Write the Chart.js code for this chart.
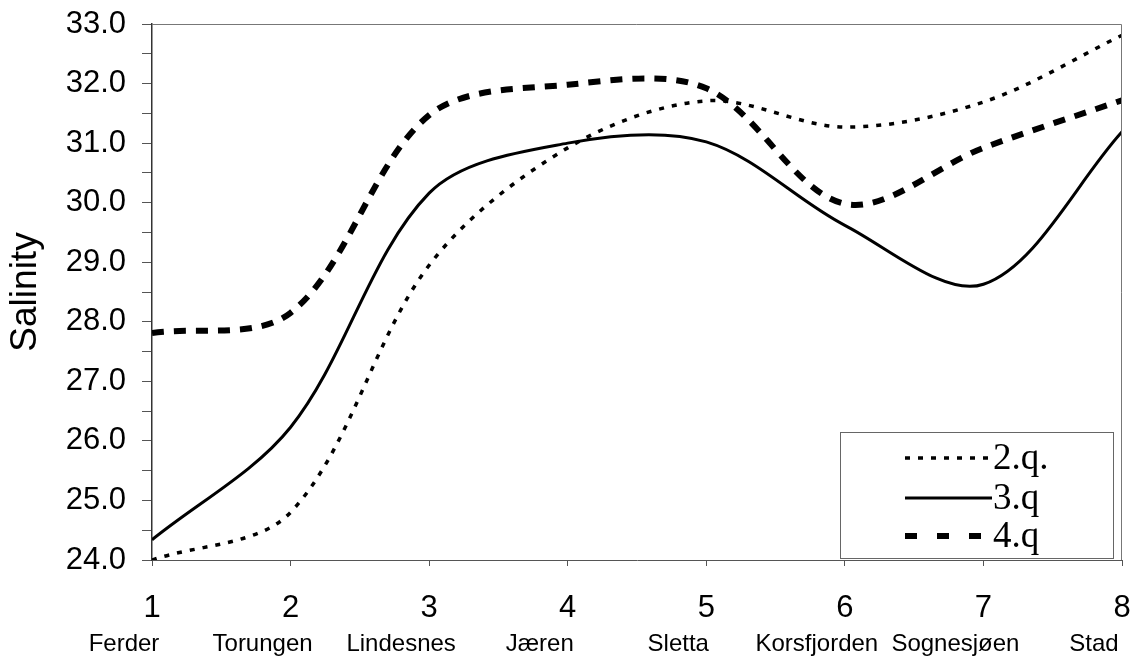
<!DOCTYPE html>
<html><head><meta charset="utf-8">
<script src="https://cdn.jsdelivr.net/npm/chart.js@4/dist/chart.umd.min.js"></script>
<style>html,body{margin:0;padding:0;background:#fff;}#wrap{width:1131px;height:658px;position:relative;}</style>
</head><body><div id="wrap"><canvas id="c" width="1131" height="658"></canvas></div>
<script>
// ---- data ----
const positions = [1, 2, 3, 4, 5, 6, 7, 8];
const stations = ['Ferder', 'Torungen', 'Lindesnes', 'Jæren', 'Sletta', 'Korsfjorden', 'Sognesjøen', 'Stad'];
const seriesLabels = ['2.q.', '3.q', '4.q'];
const q2 = [24.0, 24.8, 28.95, 30.92, 31.71, 31.27, 31.69, 32.81];
const q3 = [24.34, 26.23, 30.16, 31.0, 31.02, 29.62, 28.63, 31.19];
const q4 = [27.81, 28.15, 31.47, 31.98, 31.92, 29.98, 30.92, 31.72];
const yMin = 24, yMax = 33;

const SANS = '"Liberation Sans", Arial, sans-serif';
const SERIF = '"Liberation Serif", "Times New Roman", serif';

const toPts = arr => positions.map((p, i) => ({ x: p, y: arr[i] }));

const framePlugin = {
  id: 'frame',
  afterDatasetsDraw(chart) {
    const { ctx, chartArea: a } = chart;
    ctx.save();
    ctx.strokeStyle = '#777';
    ctx.lineWidth = 1;
    ctx.beginPath();
    ctx.moveTo(a.left, a.top + 0.5);
    ctx.lineTo(a.right - 0.5, a.top + 0.5);
    ctx.lineTo(a.right - 0.5, a.bottom);
    ctx.stroke();
    ctx.restore();
  }
};

const boxLegend = {
  id: 'boxLegend',
  afterDraw(chart) {
    const { ctx, chartArea: a } = chart;
    const w = 273, h = 126;
    const L = a.right - 9 - w, T = a.bottom - 128;
    ctx.save();
    ctx.fillStyle = '#fff';
    ctx.fillRect(L, T, w, h);
    ctx.strokeStyle = '#666';
    ctx.lineWidth = 1;
    ctx.strokeRect(L + 0.5, T + 0.5, w, h);
    const rows = [26, 66, 104];
    chart.data.datasets.forEach((ds, i) => {
      const y = T + rows[i];
      ctx.beginPath();
      ctx.setLineDash(ds.legendDash || []);
      ctx.lineWidth = ds.borderWidth;
      ctx.strokeStyle = ds.borderColor;
      ctx.moveTo(L + 65, y);
      ctx.lineTo(L + 152, y);
      ctx.stroke();
      ctx.setLineDash([]);
      ctx.fillStyle = '#000';
      ctx.font = '37px ' + SERIF;
      ctx.textBaseline = 'alphabetic';
      ctx.textAlign = 'left';
      ctx.fillText(ds.label, L + 153, y + 11);
    });
    ctx.restore();
  }
};

new Chart(document.getElementById('c'), {
  type: 'line',
  data: {
    datasets: [
      { label: seriesLabels[0], data: toPts(q2), borderColor: '#000', borderWidth: 3.5, borderDash: [5, 8], legendDash: [5, 8], pointRadius: 0, tension: 0.33, fill: false },
      { label: seriesLabels[1], data: toPts(q3), borderColor: '#000', borderWidth: 3, pointRadius: 0, tension: 0.33, fill: false },
      { label: seriesLabels[2], data: toPts(q4), borderColor: '#000', borderWidth: 6, borderDash: [12, 10], legendDash: [12, 20], pointRadius: 0, tension: 0.33, fill: false }
    ]
  },
  options: {
    responsive: false,
    animation: false,
    devicePixelRatio: 1,
    layout: { padding: { left: 0, top: 24, right: 9, bottom: 0 } },
    plugins: { legend: { display: false }, tooltip: { enabled: false } },
    scales: {
      x: {
        type: 'linear', position: 'bottom', min: 1, max: 8,
        ticks: { stepSize: 1, font: { family: SANS, size: 31 }, color: '#000', padding: 24 },
        grid: { drawOnChartArea: false, tickLength: 6, color: '#555' },
        border: { color: '#555', width: 1 },
        afterFit(s) { s.height = 62; s.paddingLeft = 0; s.paddingRight = 0; }
      },
      x2: {
        type: 'linear', position: 'bottom', min: 1, max: 8,
        ticks: {
          stepSize: 1, font: { family: SANS, size: 24 }, color: '#000', padding: 8, labelOffset: -28,
          callback: v => stations[positions.indexOf(v)]
        },
        grid: { display: false, drawTicks: false },
        border: { display: false },
        afterFit(s) { s.height = 36; s.paddingLeft = 0; s.paddingRight = 0; }
      },
      y: {
        min: yMin, max: yMax,
        ticks: {
          stepSize: 0.5, autoSkip: false,
          callback: v => Number.isInteger(v) ? v.toFixed(1) : '',
          font: { family: SANS, size: 31 }, color: '#000', padding: 16
        },
        grid: { drawOnChartArea: false, tickLength: 10, color: '#555' },
        border: { color: '#333', width: 1.5 },
        title: { display: true, text: 'Salinity', font: { family: SANS, size: 37 }, color: '#000', padding: { top: 4, bottom: 0 } },
        afterFit(s) { s.width = 152; s.paddingTop = 0; s.paddingBottom = 0; }
      }
    }
  },
  plugins: [framePlugin, boxLegend]
});
</script>
</body></html>
